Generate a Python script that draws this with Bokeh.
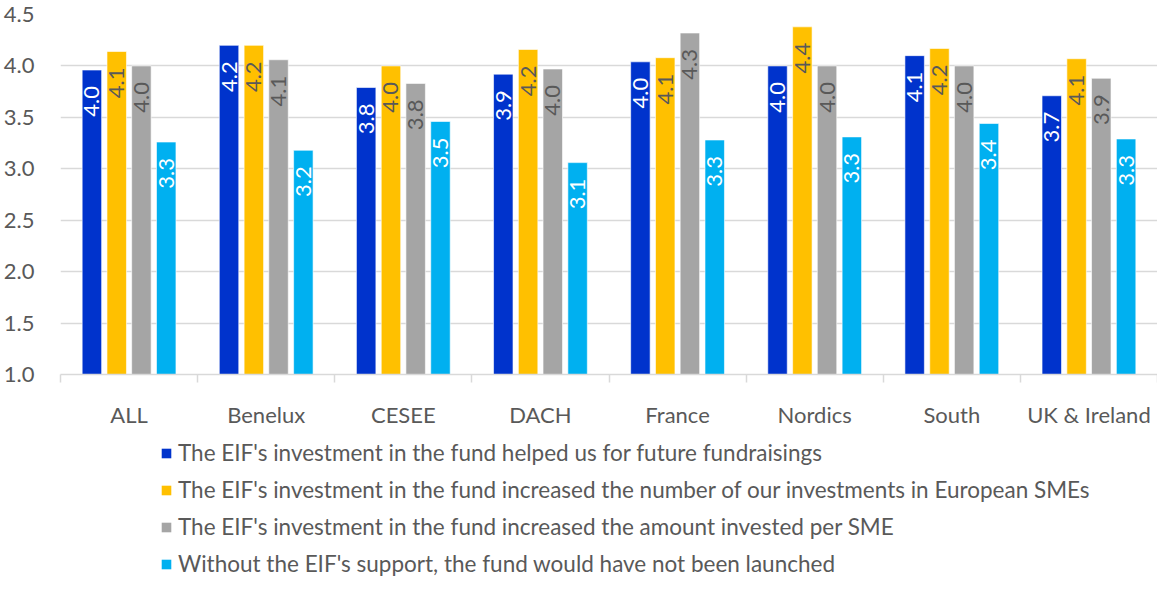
from bokeh.plotting import figure
from bokeh.layouts import column
from bokeh.models import (ColumnDataSource, FixedTicker, Legend, LegendItem,
                          LabelSet, Range1d)
from bokeh.core.properties import value
from bokeh.transform import dodge
from bokeh.embed import file_html
from bokeh.resources import INLINE

regions = ["ALL", "Benelux", "CESEE", "DACH", "France", "Nordics", "South", "UK & Ireland"]
series_names = [
    "The EIF's investment in the fund helped us for future fundraisings",
    "The EIF's investment in the fund increased the number of our investments in European SMEs",
    "The EIF's investment in the fund increased the amount invested per SME",
    "Without the EIF's support, the fund would have not been launched",
]
s_future = [3.96, 4.20, 3.79, 3.92, 4.04, 4.00, 4.10, 3.71]
s_number = [4.14, 4.20, 4.00, 4.16, 4.08, 4.38, 4.17, 4.07]
s_amount = [4.00, 4.06, 3.83, 3.97, 4.32, 4.00, 4.00, 3.88]
s_launch = [3.26, 3.18, 3.46, 3.06, 3.28, 3.31, 3.44, 3.29]
series = [s_future, s_number, s_amount, s_launch]
colors = ["#0033CC", "#FFC000", "#A5A5A5", "#00B0F0"]
label_colors = ["#FFFFFF", "#595959", "#595959", "#FFFFFF"]
y_ticks = [1.0, 1.5, 2.0, 2.5, 3.0, 3.5, 4.0, 4.5]

FONT = "Lato"
TXT = "#595959"
FS = "22px"
W = 1157

centers = [i + 0.5 for i in range(len(regions))]

p = figure(width=W, height=438, output_backend="svg", toolbar_location=None,
           x_range=Range1d(0, len(regions)), y_range=Range1d(1.0, 4.5),
           min_border_left=53, min_border_right=0, min_border_top=14,
           min_border_bottom=64)
p.outline_line_color = None
p.background_fill_color = "white"
p.border_fill_color = "white"

offsets = [-0.271, -0.09, 0.09, 0.271]
sources = []
for k, vals in enumerate(series):
    src = ColumnDataSource(dict(x=centers, top=vals,
                                lab=[f"{v:.1f}" for v in vals]))
    sources.append(src)
    p.vbar(x=dodge("x", offsets[k], range=p.x_range), top="top", bottom=1.0,
           width=0.142, source=src, fill_color=colors[k],
           line_color="white", line_width=0.6)
    lbl = LabelSet(x=dodge("x", offsets[k], range=p.x_range), y="top", text="lab",
                   source=src, angle=90, angle_units="deg", text_align="right",
                   text_baseline="middle", y_offset=-16,
                   text_color=label_colors[k], text_font=value(FONT),
                   text_font_size=value(FS))
    p.add_layout(lbl)

# axes
p.xaxis.ticker = FixedTicker(ticks=centers, minor_ticks=list(range(len(regions) + 1)))
p.xaxis.major_label_overrides = {c: r for c, r in zip(centers, regions)}
p.xaxis.major_tick_line_color = None
p.xaxis.major_tick_out = 0
p.xaxis.minor_tick_line_color = "#D9D9D9"
p.xaxis.minor_tick_line_width = 1.5
p.xaxis.minor_tick_out = 8
p.xaxis.minor_tick_in = 0
p.xaxis.axis_line_color = "#D9D9D9"
p.xaxis.axis_line_width = 1.5
p.xaxis.major_label_standoff = 18
p.xaxis.major_label_text_font = FONT
p.xaxis.major_label_text_font_size = FS
p.xaxis.major_label_text_color = TXT

p.yaxis.ticker = FixedTicker(ticks=y_ticks)
p.yaxis.major_label_overrides = {t: f"{t:.1f}" for t in y_ticks}
p.yaxis.axis_line_color = None
p.yaxis.major_tick_line_color = None
p.yaxis.minor_tick_line_color = None
p.yaxis.major_label_standoff = 20
p.yaxis.major_label_text_font = FONT
p.yaxis.major_label_text_font_size = FS
p.yaxis.major_label_text_color = TXT

p.xgrid.grid_line_color = None
p.ygrid.grid_line_color = "#D9D9D9"
p.ygrid.grid_line_width = 1.5

# legend figure (legend swatches come from hidden copies of the series renderers)
lf = figure(width=W, height=140, output_backend="svg", toolbar_location=None,
            x_range=Range1d(0, 1), y_range=Range1d(0, 1),
            min_border=0, min_border_left=0, min_border_right=0,
            min_border_top=0, min_border_bottom=0,
            x_axis_type=None, y_axis_type=None)
lf.outline_line_color = None
lf.grid.visible = False
items = []
for k in range(len(series)):
    r = lf.vbar(x="x", top="top", width=0.1, source=sources[k],
                fill_color=colors[k], line_color=None)
    r.visible = False
    items.append(LegendItem(label=series_names[k], renderers=[r]))
legend = Legend(items=items, orientation="vertical", location=(100, 1),
                label_text_font=FONT, label_text_font_size="22.5px",
                label_text_color=TXT, glyph_width=12, glyph_height=12,
                label_height=20, spacing=10, padding=0, margin=0,
                label_standoff=6, border_line_color=None,
                background_fill_alpha=0)
lf.add_layout(legend, "center")

layout = column(p, lf, spacing=0)
open("out.html", "w").write(file_html(layout, INLINE))
